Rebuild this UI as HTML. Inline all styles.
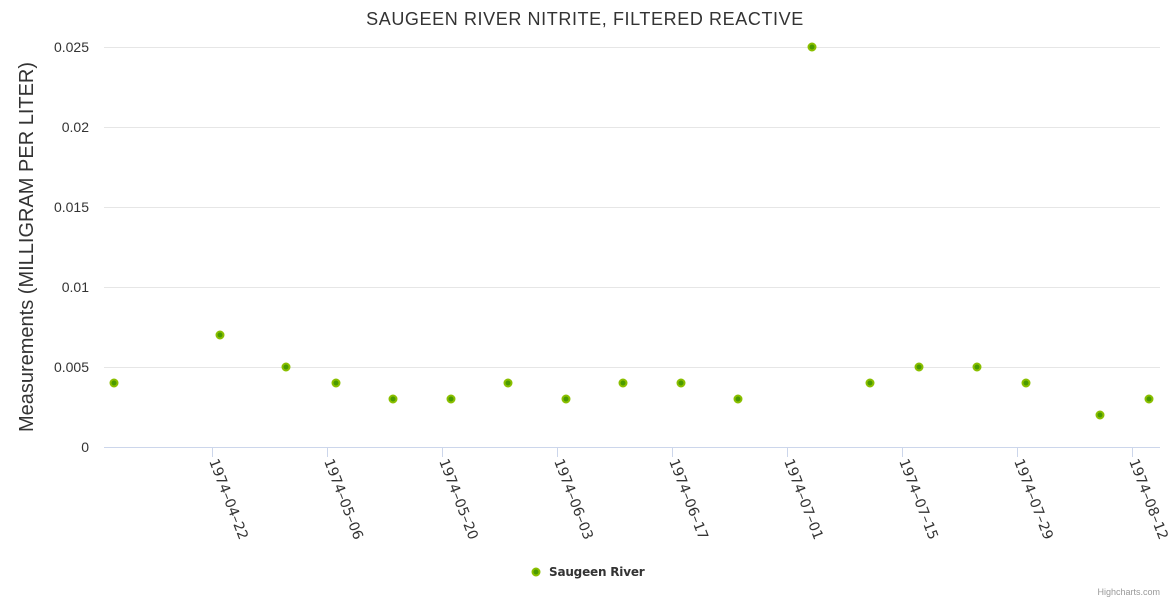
<!DOCTYPE html>
<html><head><meta charset="utf-8"><style>body{margin:0;background:#fff}svg{display:block;font-family:"Liberation Sans",sans-serif}</style></head><body>
<svg width="1170" height="600" xmlns="http://www.w3.org/2000/svg">
<text x="585" y="25" text-anchor="middle" font-size="18" fill="#333" letter-spacing="0.6">SAUGEEN RIVER NITRITE, FILTERED REACTIVE</text>
<g stroke="#e6e6e6" stroke-width="1">
<line x1="104" x2="1160" y1="47.5" y2="47.5"/><line x1="104" x2="1160" y1="127.5" y2="127.5"/><line x1="104" x2="1160" y1="207.5" y2="207.5"/><line x1="104" x2="1160" y1="287.5" y2="287.5"/><line x1="104" x2="1160" y1="367.5" y2="367.5"/>
</g>
<line x1="104" x2="1160" y1="447.5" y2="447.5" stroke="#ccd6eb"/>
<g font-size="14" fill="#333" text-anchor="end">
<text x="89" y="52">0.025</text><text x="89" y="132">0.02</text><text x="89" y="212">0.015</text><text x="89" y="292">0.01</text><text x="89" y="372">0.005</text><text x="89" y="452">0</text>
</g>
<text transform="translate(33,247) rotate(-90)" text-anchor="middle" font-size="20" fill="#333">Measurements (MILLIGRAM PER LITER)</text>
<g stroke="#ccd6eb">
<line x1="212.5" x2="212.5" y1="447" y2="457"/><line x1="327.5" x2="327.5" y1="447" y2="457"/><line x1="442.5" x2="442.5" y1="447" y2="457"/><line x1="557.5" x2="557.5" y1="447" y2="457"/><line x1="672.5" x2="672.5" y1="447" y2="457"/><line x1="787.5" x2="787.5" y1="447" y2="457"/><line x1="902.5" x2="902.5" y1="447" y2="457"/><line x1="1017.5" x2="1017.5" y1="447" y2="457"/><line x1="1132.5" x2="1132.5" y1="447" y2="457"/>
</g>
<g font-size="14" fill="#333" font-family="DejaVu Sans, sans-serif">
<text transform="translate(209,461) rotate(69)">1974–04–22</text>
<text transform="translate(324,461) rotate(69)">1974–05–06</text>
<text transform="translate(439,461) rotate(69)">1974–05–20</text>
<text transform="translate(554,461) rotate(69)">1974–06–03</text>
<text transform="translate(669,461) rotate(69)">1974–06–17</text>
<text transform="translate(784,461) rotate(69)">1974–07–01</text>
<text transform="translate(899,461) rotate(69)">1974–07–15</text>
<text transform="translate(1014,461) rotate(69)">1974–07–29</text>
<text transform="translate(1129,461) rotate(69)">1974–08–12</text>
</g>
<g fill="#4a9a00" stroke="#8abf00" stroke-width="2">
<circle cx="114" cy="383" r="3.5"/><circle cx="220" cy="335" r="3.5"/><circle cx="286" cy="367" r="3.5"/><circle cx="336" cy="383" r="3.5"/><circle cx="393" cy="399" r="3.5"/><circle cx="451" cy="399" r="3.5"/><circle cx="508" cy="383" r="3.5"/><circle cx="566" cy="399" r="3.5"/><circle cx="623" cy="383" r="3.5"/><circle cx="681" cy="383" r="3.5"/><circle cx="738" cy="399" r="3.5"/><circle cx="812" cy="47" r="3.5"/><circle cx="870" cy="383" r="3.5"/><circle cx="919" cy="367" r="3.5"/><circle cx="977" cy="367" r="3.5"/><circle cx="1026" cy="383" r="3.5"/><circle cx="1100" cy="415" r="3.5"/><circle cx="1149" cy="399" r="3.5"/>
<circle cx="536" cy="572" r="3.5"/>
</g>
<text x="549" y="576" font-size="12" font-weight="bold" fill="#333" font-family="DejaVu Sans, sans-serif" letter-spacing="-0.2">Saugeen River</text>
<text x="1160" y="595" text-anchor="end" font-size="9" fill="#999">Highcharts.com</text>
</svg>
</body></html>
